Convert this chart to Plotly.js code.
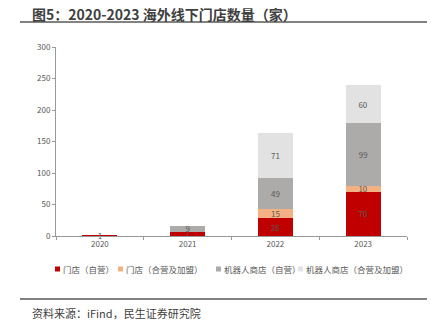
<!DOCTYPE html>
<html><head><meta charset="utf-8">
<script src="https://cdn.plot.ly/plotly-3.0.1.min.js"></script>
<style>html,body{margin:0;padding:0;background:#fff}#c{width:431px;height:333px}</style>
</head><body><div id="c"></div>
<script>
const years = ['2020','2021','2022','2023'];
const seriesNames = ['门店（自营）','门店（合营及加盟）','机器人商店（自营）','机器人商店（合营及加盟）'];
const storeSelf = [1, 7, 28, 70];
const storeJoint = [0, 0, 15, 10];
const robotSelf = [0, 9, 49, 99];
const robotJoint = [0, 0, 71, 60];
const colors = ['#C00000','#F4B183','#ADABAA','#E2E2E2'];
const allVals = [storeSelf, storeJoint, robotSelf, robotJoint];
const font = "'Noto Sans CJK SC', 'Noto Sans', sans-serif";

const W = 431, H = 333, mL = 56, mR = 24, mT = 47, mB = 97;
const pw = W - mL - mR, ph = H - mT - mB;
const px = x => (x - mL) / pw;
const py = y => (H - mB - y) / ph;

const traces = allVals.map((vals, i) => ({
  type: 'bar', x: years, y: vals, name: seriesNames[i],
  marker: {color: colors[i]},
  text: vals.map(v => v ? String(v) : ''),
  textposition: 'inside', insidetextanchor: 'middle', constraintext: 'none', textangle: 0,
  textfont: {size: 8, color: '#595959', family: font},
  cliponaxis: false, showlegend: false,
  hoverinfo: 'skip'
}));

// custom single-row legend
const legX = [55, 118, 216, 298];
const legY = 269;
const shapes = [
  {type: 'line', xref: 'paper', yref: 'paper', x0: px(20), x1: px(427), y0: py(22), y1: py(22),
   line: {color: '#595959', width: 1.5}},
  {type: 'line', xref: 'paper', yref: 'paper', x0: px(20), x1: px(427), y0: py(299), y1: py(299),
   line: {color: '#595959', width: 1.5}}
];
const annotations = [
  {text: '<b>图5：2020-2023 海外线下门店数量（家）</b>', xref: 'paper', yref: 'paper',
   x: px(30), xanchor: 'left', y: py(14), yanchor: 'middle', showarrow: false,
   font: {size: 14, color: '#404040', family: font}},
  {text: '资料来源：iFind，民生证券研究院', xref: 'paper', yref: 'paper',
   x: px(30), xanchor: 'left', y: py(313), yanchor: 'middle', showarrow: false,
   font: {size: 11, color: '#404040', family: font}}
];
seriesNames.forEach((n, i) => {
  shapes.push({type: 'rect', xref: 'paper', yref: 'paper',
    x0: px(legX[i]), x1: px(legX[i] + 5), y0: py(legY + 2.5), y1: py(legY - 2.5),
    fillcolor: colors[i], line: {width: 0}});
  annotations.push({text: n, xref: 'paper', yref: 'paper', x: px(legX[i] + 6), xanchor: 'left',
    y: py(legY), yanchor: 'middle', showarrow: false,
    font: {size: 8.5, color: '#595959', family: font}});
});

const layout = {
  width: W, height: H,
  margin: {l: mL, r: mR, t: mT, b: mB},
  barmode: 'stack', bargap: 0.6,
  showlegend: false,
  font: {family: font},
  paper_bgcolor: '#fff', plot_bgcolor: '#fff',
  xaxis: {type: 'category', showline: true, linecolor: '#999', linewidth: 1,
    ticks: 'outside', tickson: 'boundaries', ticklen: 3, tickcolor: '#999',
    tickfont: {size: 8, color: '#595959'}, showgrid: false, fixedrange: true},
  yaxis: {range: [0, 300], dtick: 50, showline: true, linecolor: '#999', linewidth: 1,
    ticks: 'outside', ticklen: 3, tickcolor: '#999', showgrid: false, zeroline: false,
    tickfont: {size: 8, color: '#595959'}, fixedrange: true},
  annotations: annotations,
  shapes: shapes
};
Plotly.newPlot('c', traces, layout, {displayModeBar: false, staticPlot: true});
</script></body></html>
